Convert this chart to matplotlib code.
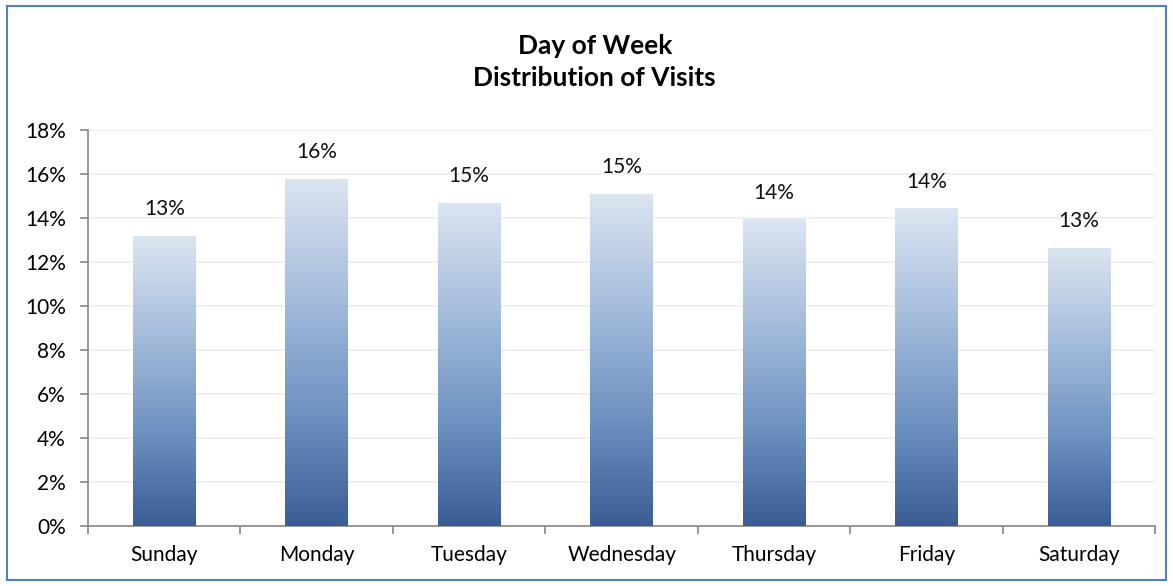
import numpy as np
import matplotlib.pyplot as plt
from matplotlib.patches import Rectangle
from matplotlib.colors import LinearSegmentedColormap
from matplotlib.ticker import FuncFormatter, FixedLocator

plt.rcParams['font.family'] = ['Lato', 'DejaVu Sans']

days = ["Sunday", "Monday", "Tuesday", "Wednesday", "Thursday", "Friday", "Saturday"]
share = [13.2, 15.8, 14.7, 15.1, 13.95, 14.45, 12.65]   # percent of visits
labels = ["13%", "16%", "15%", "15%", "14%", "14%", "13%"]

fig = plt.figure(figsize=(11.73, 5.86), dpi=100)
ax = fig.add_axes([0.075, 0.1024, 0.91, 0.6755])

# outer chart border
fig.patches.append(Rectangle((0.006, 0.01), 0.988, 0.98, transform=fig.transFigure,
                             fill=False, edgecolor="#4f81bd", linewidth=1.5))

x = np.arange(len(days))
bars = ax.bar(x, share, width=0.41, color="none", edgecolor="none", zorder=3)

# vertical gradient, dark at bottom, light at top
cmap = LinearSegmentedColormap.from_list("blu", ["#dce5f1", "#a6bddc", "#6f93c2", "#3a5e94"])
grad = np.linspace(0, 1, 256).reshape(-1, 1)
for b in bars:
    x0, w, h = b.get_x(), b.get_width(), b.get_height()
    im = ax.imshow(grad, cmap=cmap, aspect="auto", extent=[x0, x0 + w, 0, h],
                   origin="upper", zorder=3)
    im.set_clip_path(b)

for xi, v, lab in zip(x, share, labels):
    ax.annotate(lab, (xi, v), xytext=(0, 12), textcoords="offset points",
                ha="center", va="bottom", fontsize=15, color="#111111")

ax.set_xlim(-0.5, len(days) - 0.5)
ax.set_ylim(0, 18)
ax.set_yticks(np.arange(0, 19, 2))
ax.yaxis.set_major_formatter(FuncFormatter(lambda v, p: f"{v:.0f}%"))
ax.xaxis.set_major_locator(FixedLocator(np.arange(-0.5, len(days), 1)))
ax.xaxis.set_major_formatter(FuncFormatter(lambda v, p: ""))
ax.set_xticks(x, minor=True)
ax.set_xticklabels(days, minor=True)
ax.tick_params(axis="x", which="minor", length=0, pad=14, labelsize=15)
ax.tick_params(axis="x", which="major", length=6, color="#868686", width=1.2)
ax.tick_params(axis="y", length=6, color="#868686", width=1.2, labelsize=15, pad=10)

ax.grid(axis="y", color="#ececec", linewidth=1.2, zorder=0)
ax.set_axisbelow(True)
for s in ["top", "right"]:
    ax.spines[s].set_visible(False)
for s in ["left", "bottom"]:
    ax.spines[s].set_color("#868686")
    ax.spines[s].set_linewidth(1.2)

fig.text(0.507, 0.894, "Day of Week\nDistribution of Visits", ha="center", va="center",
         fontsize=19, fontweight="bold", linespacing=1.42)

fig.savefig("out.png", dpi=100)
